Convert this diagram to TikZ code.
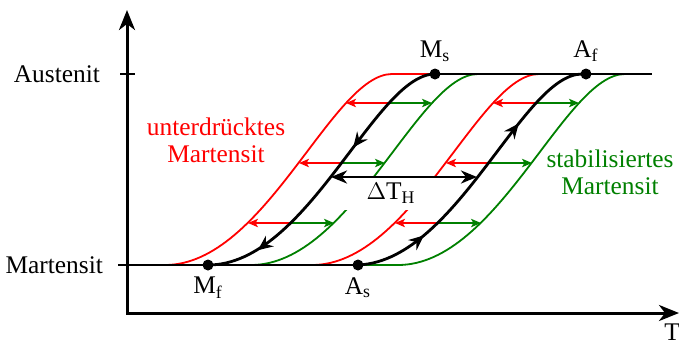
\documentclass[tikz,border=0pt]{standalone}
\usepackage{fontspec}
\setmainfont{Liberation Serif}
\usetikzlibrary{arrows.meta,positioning,decorations.markings}
\definecolor{hystRed}{RGB}{255,0,0}
\definecolor{hystGreen}{RGB}{0,128,0}

\begin{document}
\begin{tikzpicture}[x=0.5pt,y=-0.5pt,
      font=\fontsize{12.7}{13.5}\selectfont,
      axis/.style={line width=1.5pt,{Stealth[length=10pt,width=8pt,inset=3pt]}-{Stealth[length=10pt,width=8pt,inset=3pt]}},
      level/.style={line width=1.4pt},
      blackloop/.style={line width=1.4pt,postaction={decorate}},
      colloop/.style={line width=0.9pt},
      shiftarr/.style={line width=0.55pt,-{Stealth[length=5pt,width=4.2pt,inset=1.2pt]}},
      dth/.style={line width=1.4pt,{Stealth[length=8pt,width=6.5pt,inset=2.5pt]}-{Stealth[length=8pt,width=6.5pt,inset=2.5pt]}},
      cooling/.style={decoration={markings,
         mark=at position 0.22 with {\arrow{Stealth[length=7.5pt,width=6.5pt,inset=2.5pt,reversed]}},
         mark=at position 0.68 with {\arrow{Stealth[length=7.5pt,width=6.5pt,inset=2.5pt,reversed]}}}},
      heating/.style={decoration={markings,
         mark=at position 0.25 with {\arrow{Stealth[length=7.5pt,width=6.5pt,inset=2.5pt]}},
         mark=at position 0.73 with {\arrow{Stealth[length=7.5pt,width=6.5pt,inset=2.5pt]}}}},
      dot/.style={circle,fill,inner sep=0pt,minimum size=5.5pt},
      lbl/.style={inner sep=1pt}]
    \useasboundingbox (0,0) rectangle (679,344);

    % axes
    \draw[axis] (127,10) -- (127,313) -- (679,313);
    \draw[level] (120,74) -- (135,74);
    \node[anchor=east] (aust) at (107,74) {Austenit};
    \node[anchor=east] (mart) at (110,265) {Martensit};
    \node[anchor=west,inner sep=0pt] (tlab) at (664,332) {T};

    % shifted loops
    \foreach \a/\col in {165/hystRed,251/hystGreen,312/hystRed,398/hystGreen}
      \draw[colloop,\col] (\a,265) .. controls ({\a+100},265) and ({\a+167},74) .. ({\a+227},74);
    \draw[colloop,hystRed] (392,74) -- (435,74);
    \draw[colloop,hystGreen] (358,265) -- (398,265);

    \foreach \xb/\yy in {389/103,342/163,291/223,536/103,489/163,438/223}{
      \draw[shiftarr,hystRed] (\xb,\yy) -- ({\xb-43},\yy);
      \draw[shiftarr,hystGreen] (\xb,\yy) -- ({\xb+43},\yy);
    }

    \fill[white] (331,177) rectangle (477,210);
    \node (dlab) at (391,193) {$\Delta$T\textsubscript{H}};

    % main loop
    \draw[level] (118,265) -- (358,265);
    \draw[level] (435,74) -- (652,74);
    \draw[blackloop,cooling] (208,265) .. controls (308,265) and (375,74) .. (435,74);
    \draw[blackloop,heating] (355,265) .. controls (455,265) and (522,74) .. (582,74);

    \coordinate (dl) at (331,177);
    \coordinate (dr) at (477,177);
    \draw[dth] (dl) -- (dr);

    \node[dot] (ms) at (435,74) {};
    \node[dot] (af) at (586,74) {};
    \node[dot] (mf) at (208,265) {};
    \node[dot] (as) at (358,265) {};
    \node[lbl,above=2pt of ms] (msl) {M\textsubscript{s}};
    \node[lbl,above=2pt of af] (afl) {A\textsubscript{f}};
    \node[lbl,below=2pt of mf] (mfl) {M\textsubscript{f}};
    \node[lbl,below=2pt of as] (asl) {A\textsubscript{s}};

    \node[hystRed,align=center] (unter) at (216,140) {unterdrücktes\\Martensit};
    \node[hystGreen,align=center] (stab) at (610,172) {stabilisiertes\\Martensit};
\end{tikzpicture}
\end{document}
